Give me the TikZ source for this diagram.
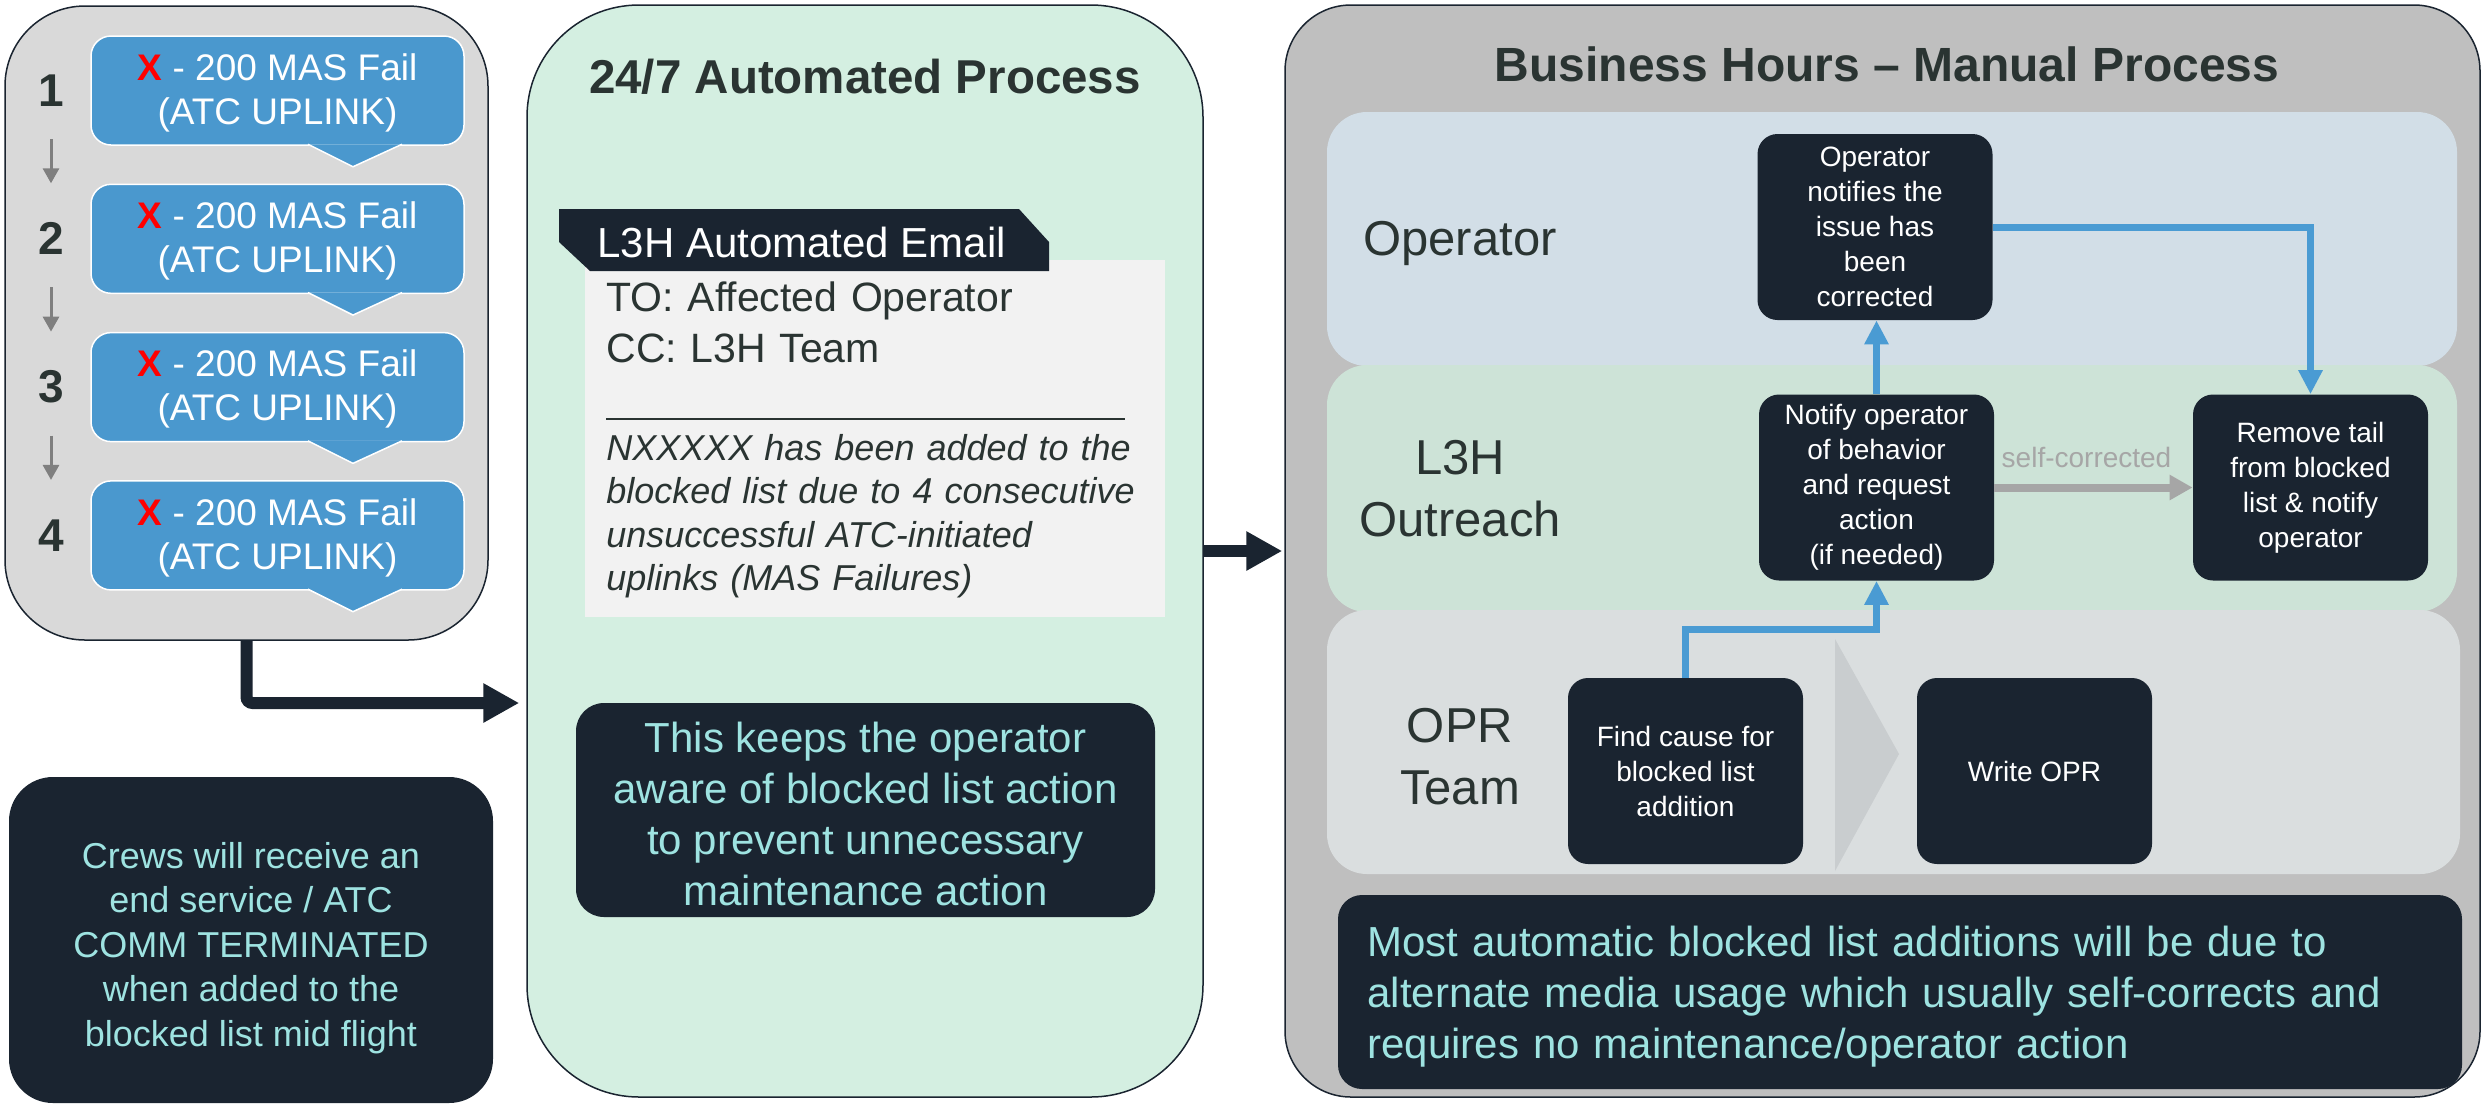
\documentclass[tikz,border=0pt]{standalone}
\usepackage{fontspec}
\setmainfont{Liberation Sans}
\usetikzlibrary{arrows.meta,calc}

\definecolor{navy}{HTML}{1A2430}
\definecolor{aqua}{HTML}{9EE3E1}
\definecolor{ink}{HTML}{2A3432}
\definecolor{failblue}{HTML}{4A98CE}
\definecolor{xred}{HTML}{FF0000}
\definecolor{failgray}{HTML}{D9D9D9}
\definecolor{stepgray}{HTML}{7F7F7F}
\definecolor{autogreen}{HTML}{D4EFE1}
\definecolor{mailgray}{HTML}{F2F2F2}
\definecolor{mangray}{HTML}{BFBFBF}
\definecolor{opblue}{HTML}{D2DEE7}
\definecolor{outgreen}{HTML}{CDE3D7}
\definecolor{oprgray}{HTML}{DADEDF}
\definecolor{chevgray}{HTML}{C9CDCF}
\definecolor{flowblue}{HTML}{4A9BD3}
\definecolor{selfgray}{HTML}{A6A6A6}

\newcommand{\fsz}[2]{\fontsize{#1}{#2}\selectfont}

\begin{document}
\begin{tikzpicture}[x=0.5pt,y=-0.5pt,
  panel/.style={draw=navy,line width=.75pt,inner sep=0pt},
  failbox/.style={fill=failblue,draw=white,line width=.75pt,rounded corners=10pt,
    minimum width=186.5pt,minimum height=54.5pt,inner sep=0pt,
    text=white,align=center,font=\fsz{18.5}{22}},
  digit/.style={text=ink,font=\fsz{23}{27}\bfseries},
  steparrow/.style={draw=stepgray,line width=1.5pt,-{Triangle[length=7.5pt,width=8pt]}},
  bigarrow/.style={draw=navy,line width=6pt,-{Triangle[length=18pt,width=18.5pt]}},
  note/.style={fill=navy,inner sep=0pt},
  notetext/.style={text=aqua,inner sep=0pt,align=center},
  headline/.style={text=ink,font=\fsz{24}{28}\bfseries,anchor=base},
  lanelabel/.style={text=ink,font=\fsz{24.5}{31},text width=120pt,align=center,anchor=base},
  stepbox/.style={fill=navy,text=white,rounded corners=10pt,minimum width=117.5pt,
    minimum height=93pt,inner sep=0pt,align=center,font=\fsz{14}{17.5}},
  flow/.style={draw=flowblue,line width=3.5pt,-{Triangle[length=12pt,width=11.5pt]}},
  selfarrow/.style={draw=selfgray,line width=4pt,-{Triangle[length=11.5pt,width=12pt]}}]
\useasboundingbox (0,0) rectangle (2484,1105);

% the three columns
\node[panel,fill=failgray,rounded corners=40pt,minimum width=241.5pt,minimum height=317pt] (fails) at (246.5,323) {};
\node[panel,fill=autogreen,rounded corners=56pt,minimum width=338pt,minimum height=546pt] (autoproc) at (865,551) {};
\node[panel,fill=mangray,rounded corners=33pt,minimum width=597.5pt,minimum height=546pt] (manproc) at (1882.5,551) {};

% four failed uplinks
\foreach \i in {1,...,4}{
  \pgfmathsetmacro{\c}{90.5+148.3*(\i-1)}
  \node[failbox] (f\i) at (277.5,\c) {\rule{0pt}{15.5pt}\textcolor{xred}{\textbf{X}} - 200 MAS Fail\\(ATC UPLINK)};
  \filldraw[fill=failblue,draw=white,line width=.75pt] ($(f\i.south)+(30.5,-1.5)$) -- ($(f\i.south)+(75.5,21)$) -- ($(f\i.south)+(124.5,-1.5)$);
  \node[digit] (n\i) at (51,\c) {\i};
}
\foreach \i [evaluate=\i as \j using int(\i+1)] in {1,2,3}
  \draw[steparrow] ($(n\i)+(0,48.5)$) -- ($(n\j)+(0,-55.5)$);

\node[note,rounded corners=22pt,minimum width=242pt,minimum height=163pt] (crews) at (251,940) {};
\node[notetext,font=\fsz{18}{22.25}] (crewstext) at (251,948)
  {Crews will receive an\\end service / ATC\\COMM TERMINATED\\when added to the\\blocked list mid flight};

\coordinate (turn) at (247,703);
\draw[bigarrow,rounded corners=3pt] (fails.south) |- ($(autoproc.west |- turn)+(-7,0)$);

% automated column
\node[headline,font=\fsz{23.75}{28}\bfseries] (autotitle) at (865,93) {24/7 Automated Process};
\fill[mailgray] (585,260) rectangle (1165,617);
\fill[navy] (559,209) -- (1019,209) -- (1049,242) -- (1049,271) -- (590,271) -- (559,242) -- cycle;
\node[text=white,font=\fsz{21}{25},anchor=base west,inner sep=0pt] (mailhead) at (597,257) {L3H Automated Email};
\node[text=ink,font=\fsz{20.5}{25.5},text width=260pt,align=left,anchor=base west,inner sep=0pt] (mailto) at (606,311)
  {TO: Affected Operator\\CC: L3H Team};
\draw[ink,line width=1pt] (606,419) -- (1125,419);
\node[text=ink,font=\fsz{18}{21.75}\itshape,text width=280pt,align=left,anchor=base west,inner sep=0pt] (mailbody) at (606,460)
  {NXXXXX has been added to the\\blocked list due to 4 consecutive\\unsuccessful ATC-initiated\\uplinks (MAS Failures)};
\node[note,rounded corners=14pt,minimum width=289.5pt,minimum height=107pt] (aware) at (865.5,810) {};
\node[notetext,font=\fsz{21}{25.5}] (awaretext) at (865.5,814)
  {This keeps the operator\\aware of blocked list action\\to prevent unnecessary\\maintenance action};

\draw[bigarrow] (autoproc.east) -- ($(manproc.west)+(-2,0)$);

% manual column
\node[headline] (mantitle) at (1887,81) {Business Hours – Manual Process};
\fill[opblue,rounded corners=20pt] (1327,112) rectangle (2457,366);
\fill[outgreen,rounded corners=20pt] (1327,365) rectangle (2457,612);
\fill[oprgray,rounded corners=20pt] (1327,610) rectangle (2460,874);
\fill[chevgray] (1835,639) -- (1899,754) -- (1835,871) -- cycle;

\node[lanelabel] (oplabel) at (1460,255) {Operator};
\node[lanelabel] (outlabel) at (1460,474) {L3H\\Outreach};
\node[lanelabel] (oprlabel) at (1460,742) {OPR\\Team};

\node[stepbox] (op) at (1875,227) {Operator\\notifies the\\issue has\\been\\corrected};
\node[stepbox] (notify) at (1876.5,487.5) {Notify operator\\of behavior\\and request\\action\\(if needed)};
\node[stepbox] (remove) at (2310.5,487.5) {Remove tail\\from blocked\\list \& notify\\operator};
\node[stepbox] (find) at (1685.5,771) {Find cause for\\blocked list\\addition};
\node[stepbox] (write) at (2034.5,771) {Write OPR};

\draw[flow] (notify.north) -- (notify.north |- op.south);
\draw[flow] (op.east) -| (remove.north);
\coordinate (bend) at ($(find.north)!.5!(notify.south)$);
\draw[flow] (find.north) |- (bend) -| (notify.south);
\draw[selfarrow] (notify.east) -- node[midway,anchor=base,yshift=10.25pt,xshift=-3.5pt,text=selfgray,font=\fsz{14}{17}] (selflabel) {self-corrected} (remove.west);

\node[note,rounded corners=12pt,minimum width=562pt,minimum height=97pt] (usage) at (1900,992) {};
\node[notetext,font=\fsz{21}{25.5},text width=533pt,align=left,anchor=base west] (usagetext) at (1367,956)
  {Most automatic blocked list additions will be due to\\alternate media usage which usually self-corrects and\\requires no maintenance/operator action};
\end{tikzpicture}
\end{document}
